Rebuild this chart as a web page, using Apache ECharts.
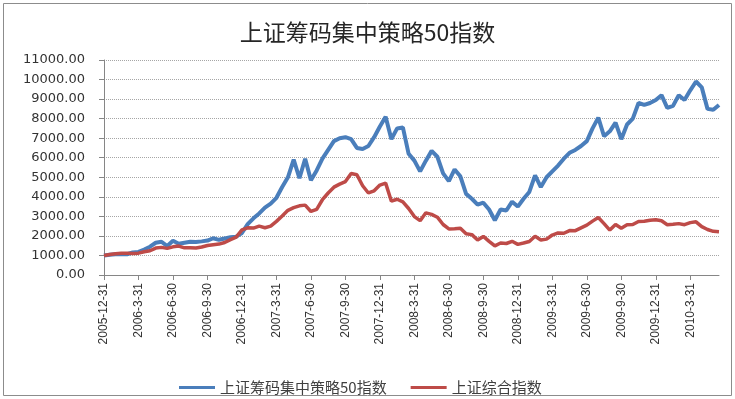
<!DOCTYPE html>
<html>
<head>
<meta charset="utf-8">
<script src="https://cdn.jsdelivr.net/npm/echarts@6/dist/echarts.min.js"></script>
<style>
  html, body { margin: 0; padding: 0; background: #fff; }
  #chart { width: 735px; height: 399px; }
</style>
</head>
<body>
<div id="chart"></div>
<script>
// quarter-end labels shown under the axis
const quarterLabels = [
  '2005-12-31', '2006-3-31', '2006-6-30', '2006-9-30', '2006-12-31',
  '2007-3-31', '2007-6-30', '2007-9-30', '2007-12-31',
  '2008-3-31', '2008-6-30', '2008-9-30', '2008-12-31',
  '2009-3-31', '2009-6-30', '2009-9-30', '2009-12-31', '2010-3-31'
]

// half-month sample dates, 2005-12-31 .. 2010-6-15
const dates = ['2005-12-31']
for (let y = 2006; y <= 2010; y++) {
  for (let m = 1; m <= 12; m++) {
    if (y === 2010 && m > 6) break
    dates.push(y + '-' + m + '-15')
    if (y === 2010 && m === 6) break
    dates.push(y + '-' + m + '-' + new Date(y, m, 0).getDate())
  }
}

const strategy50 = [
  1000, 1040, 1060, 1080, 1060, 1150, 1180, 1300, 1450, 1650,
  1700, 1480, 1750, 1600, 1650, 1700, 1690, 1720, 1760, 1880,
  1800, 1870, 1930, 1960, 2150, 2600, 2900, 3150, 3450, 3650,
  3950, 4500, 5000, 5900, 4950, 5950, 4850, 5350, 5950, 6400,
  6850, 7000, 7050, 6950, 6500, 6450, 6600, 7050, 7600, 8100,
  6950, 7500, 7550, 6200, 5850, 5300, 5850, 6350, 6050, 5200,
  4800, 5400, 5050, 4150, 3900, 3600, 3700, 3350, 2800, 3350,
  3300, 3750, 3500, 3900, 4250, 5100, 4500, 5000, 5300, 5600,
  5950, 6250, 6400, 6600, 6850, 7500, 8050, 7100, 7350, 7800,
  6950, 7700, 8000, 8800, 8700, 8800, 8950, 9200, 8550, 8650,
  9200, 8950, 9450, 9900, 9600, 8500, 8450, 8700
]

const shComposite = [
  1000, 1047, 1084, 1107, 1119, 1094, 1118, 1189, 1240, 1378,
  1413, 1361, 1440, 1481, 1388, 1395, 1379, 1430, 1509, 1550,
  1582, 1662, 1808, 1938, 2304, 2412, 2400, 2498, 2420, 2498,
  2742, 3015, 3308, 3445, 3539, 3575, 3250, 3359, 3851, 4195,
  4494, 4651, 4782, 5194, 5128, 4565, 4196, 4307, 4600, 4700,
  3775, 3876, 3745, 3402, 2990, 2780, 3181, 3101, 2957, 2584,
  2357, 2369, 2390, 2110, 2065, 1792, 1975, 1723, 1489, 1636,
  1612, 1723, 1568, 1636, 1715, 1981, 1793, 1835, 2044, 2153,
  2134, 2274, 2268, 2412, 2549, 2756, 2939, 2627, 2297, 2584,
  2394, 2567, 2580, 2739, 2752, 2799, 2823, 2773, 2574, 2593,
  2628, 2575, 2679, 2722, 2472, 2326, 2233, 2214
]

const isQuarter = (i, v) => quarterLabels.includes(v)

const chart = echarts.init(document.getElementById('chart'))
chart.setOption({
  animation: false,
  backgroundColor: '#fff',
  title: {
    text: '上证筹码集中策略50指数',
    left: 'center',
    top: 16,
    textStyle: { fontFamily: 'Noto Sans CJK SC', fontSize: 23, fontWeight: 'normal', color: '#262626' }
  },
  graphic: [{
    type: 'rect',
    shape: { x: 3.5, y: 3.5, width: 728, height: 392 },
    style: { fill: 'none', stroke: '#8c8c8c', lineWidth: 1 },
    silent: true
  }],
  legend: {
    left: 174,
    top: 375,
    itemWidth: 36,
    itemHeight: 3,
    itemGap: 24,
    icon: 'rect',
    textStyle: { fontFamily: 'Noto Sans CJK SC', fontSize: 15, color: '#404040' },
    data: ['上证筹码集中策略50指数', '上证综合指数']
  },
  grid: { left: 104, right: 16, top: 60, bottom: 124 },
  xAxis: {
    type: 'category',
    data: dates,
    boundaryGap: false,
    axisLine: { lineStyle: { color: '#868686' } },
    axisTick: { interval: isQuarter, length: 5, lineStyle: { color: '#868686' } },
    axisLabel: {
      interval: isQuarter,
      rotate: 90,
      margin: 8,
      fontFamily: 'Liberation Sans',
      fontSize: 12,
      color: '#333'
    },
    splitLine: { show: false }
  },
  yAxis: {
    type: 'value',
    min: 0,
    max: 11000,
    interval: 1000,
    axisLine: { show: true, lineStyle: { color: '#868686' } },
    axisTick: { show: true, length: 5, lineStyle: { color: '#868686' } },
    axisLabel: {
      margin: 19,
      fontFamily: 'DejaVu Sans',
      fontSize: 13,
      color: '#333',
      formatter: v => v.toFixed(2)
    },
    splitLine: { lineStyle: { type: 'dotted', color: '#a6a6a6' } }
  },
  series: [
    {
      name: '上证筹码集中策略50指数',
      type: 'line',
      data: strategy50,
      showSymbol: false,
      itemStyle: { color: '#4a7ebb' },
      lineStyle: { width: 4, color: '#4a7ebb' }
    },
    {
      name: '上证综合指数',
      type: 'line',
      data: shComposite,
      showSymbol: false,
      itemStyle: { color: '#be4b48' },
      lineStyle: { width: 3.5, color: '#be4b48' }
    }
  ]
})
</script>
</body>
</html>
